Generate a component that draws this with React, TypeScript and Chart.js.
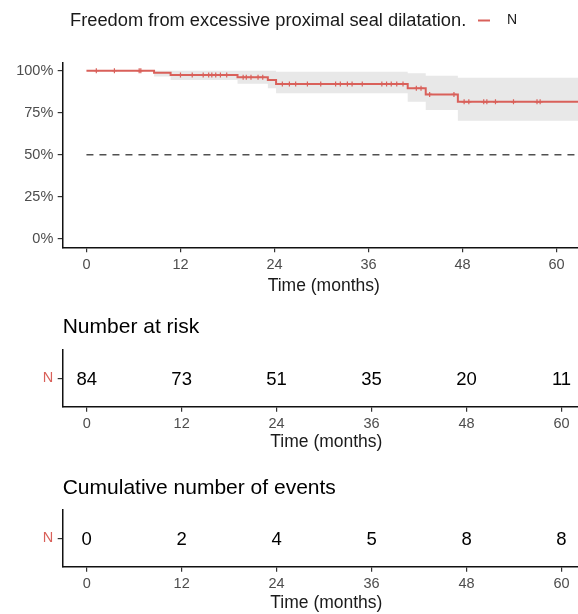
import React, { useEffect, useRef } from 'react';
import { Chart, registerables } from 'chart.js';

Chart.register(...registerables);

const FONT = "'Liberation Sans', Arial, Helvetica, sans-serif";
const RED = '#D9605A';

// ---- data ----
const legendTitle = 'Freedom from excessive proximal seal dilatation.';
const strataName = 'N';
const xAxisTitle = 'Time (months)';
const xTicks = [0, 12, 24, 36, 48, 60];
const yTicks = [0, 25, 50, 75, 100];

const stepTimes = [0, 8.63, 10.74, 19.28, 23.15, 24.2, 41.0, 43.3, 47.4, 63.6];
const survival = [100, 98.8, 97.5, 96.1, 94.5, 92.1, 89.5, 85.9, 81.5, 81.5];
const upperCI = [100, 100, 100, 100, 100, 99.4, 98.5, 97.0, 95.8, 95.8];
const lowerCI = [100, 96.5, 94.5, 92.2, 89.5, 86.6, 81.6, 76.6, 70.3, 70.3];
const censorTimes = [
  1.26, 3.57, 6.73, 6.94, 12.0, 13.5, 14.9, 15.6, 16.0, 16.5, 17.1, 17.9,
  20.0, 20.4, 21.0, 21.9, 22.5, 25.0, 25.9, 26.7, 28.2, 29.9, 31.8, 32.4,
  33.3, 33.9, 35.2, 37.7, 38.3, 38.9, 39.6, 40.4, 42.1, 42.7, 43.8, 46.9,
  48.2, 48.8, 50.7, 51.1, 52.2, 54.5, 57.5, 57.9,
];
const medianLevel = 50;

const riskTitle = 'Number at risk';
const eventsTitle = 'Cumulative number of events';
const tableTimes = [0, 12, 24, 36, 48, 60];
const riskCounts = [84, 73, 51, 35, 20, 11];
const eventCounts = [0, 2, 4, 5, 8, 8];

// ---- layout constants ----
const X_MIN = -3.03;
const X_MAX = 63.6;
const CANVAS_W = 590;
const Y_AXIS_W = 62.7;

function levelAt(t: number) {
  let v = survival[0];
  for (let i = 0; i < stepTimes.length; i++) if (stepTimes[i] <= t) v = survival[i];
  return v;
}

function xAxis(height: number, titlePadBottom: number) {
  return {
    type: 'linear',
    min: X_MIN,
    max: X_MAX,
    afterBuildTicks: (s: any) => {
      s.ticks = xTicks.map((v) => ({ value: v }));
    },
    afterFit: (s: any) => {
      s.height = height;
    },
    ticks: {
      font: { family: FONT, size: 14.5 },
      color: '#4D4D4D',
      padding: 4,
      maxRotation: 0,
      autoSkip: false,
    },
    grid: { drawOnChartArea: false, drawTicks: true, tickLength: 5, color: '#333333', lineWidth: 1.2 },
    border: { display: true, color: '#111111', width: 1.5 },
    title: {
      display: true,
      text: xAxisTitle,
      font: { family: FONT, size: 17.5 },
      color: '#1A1A1A',
      padding: { top: 0, bottom: titlePadBottom },
    },
  };
}

const legendPlugin = {
  id: 'kmLegend',
  afterDraw(chart: any) {
    const ctx = chart.ctx;
    ctx.save();
    ctx.textBaseline = 'middle';
    ctx.textAlign = 'left';
    ctx.fillStyle = '#1A1A1A';
    ctx.font = `18.3px ${FONT}`;
    ctx.fillText(legendTitle, 70, 20.5);
    ctx.strokeStyle = RED;
    ctx.lineWidth = 2;
    ctx.beginPath();
    ctx.moveTo(478, 20.5);
    ctx.lineTo(490, 20.5);
    ctx.stroke();
    ctx.font = `14px ${FONT}`;
    ctx.fillText(strataName, 507, 20.5);
    ctx.restore();
  },
};

const tableTextPlugin = {
  id: 'tableText',
  afterDatasetsDraw(chart: any, _args: any, opts: any) {
    const values: number[] = opts.values || [];
    const meta = chart.getDatasetMeta(0);
    const ctx = chart.ctx;
    const size = 18.5;
    ctx.save();
    ctx.font = `${size}px ${FONT}`;
    ctx.fillStyle = '#000000';
    ctx.textAlign = 'center';
    ctx.textBaseline = 'alphabetic';
    meta.data.forEach((pt: any, i: number) => {
      ctx.fillText(String(values[i]), pt.x, pt.y + 0.358 * size);
    });
    ctx.restore();
  },
};

function mainConfig(): any {
  return {
    type: 'line',
    data: {
      datasets: [
        {
          label: strataName,
          data: stepTimes.map((t, i) => ({ x: t, y: survival[i] })),
          stepped: true,
          borderColor: RED,
          borderWidth: 2,
          pointRadius: 0,
          fill: false,
        },
        {
          label: 'censor',
          data: censorTimes.map((t) => ({ x: t, y: levelAt(t) })),
          showLine: false,
          pointStyle: 'cross',
          pointRadius: 2.5,
          pointBorderColor: RED,
          pointBorderWidth: 1.2,
          borderColor: RED,
        },
        {
          label: 'median',
          data: [
            { x: 0, y: medianLevel },
            { x: X_MAX, y: medianLevel },
          ],
          borderColor: '#505050',
          borderWidth: 1.5,
          borderDash: [7, 6],
          pointRadius: 0,
          fill: false,
        },
        {
          label: 'upper',
          data: stepTimes.map((t, i) => ({ x: t, y: upperCI[i] })),
          stepped: true,
          borderColor: 'rgba(0,0,0,0)',
          borderWidth: 0,
          pointRadius: 0,
          backgroundColor: '#E8E8E8',
          fill: '+1',
        },
        {
          label: 'lower',
          data: stepTimes.map((t, i) => ({ x: t, y: lowerCI[i] })),
          stepped: true,
          borderColor: 'rgba(0,0,0,0)',
          borderWidth: 0,
          pointRadius: 0,
          fill: false,
        },
      ],
    },
    options: {
      animation: false,
      responsive: false,
      devicePixelRatio: 1,
      layout: { padding: { top: 62.3, left: 0, right: 0, bottom: 0 } },
      plugins: { legend: { display: false }, tooltip: { enabled: false }, title: { display: false } },
      scales: {
        x: xAxis(52.7, 3.8),
        y: {
          type: 'linear',
          min: -5,
          max: 105,
          afterBuildTicks: (s: any) => {
            s.ticks = yTicks.map((v) => ({ value: v }));
          },
          afterFit: (s: any) => {
            s.width = Y_AXIS_W;
          },
          ticks: {
            callback: (v: any) => `${v}%`,
            font: { family: FONT, size: 14.5 },
            color: '#4D4D4D',
            padding: 4.4,
          },
          grid: { drawOnChartArea: false, drawTicks: true, tickLength: 5, color: '#333333', lineWidth: 1.2 },
          border: { display: true, color: '#111111', width: 1.5 },
        },
      },
    },
    plugins: [legendPlugin],
  };
}

function tableConfig(title: string, values: number[], padTop: number, padBottom: number, axisH: number, titlePadBottom: number): any {
  return {
    type: 'scatter',
    data: {
      datasets: [
        {
          label: strataName,
          data: tableTimes.map((t) => ({ x: t, y: strataName })),
          pointRadius: 0,
          showLine: false,
        },
      ],
    },
    options: {
      animation: false,
      responsive: false,
      devicePixelRatio: 1,
      layout: { padding: 0 },
      plugins: {
        legend: { display: false },
        tooltip: { enabled: false },
        title: {
          display: true,
          text: title,
          align: 'start',
          fullSize: false,
          color: '#000000',
          font: { family: FONT, size: 21, weight: 'normal', lineHeight: 1.2 },
          padding: { top: padTop, bottom: padBottom },
        },
        tableText: { values },
      },
      scales: {
        x: xAxis(axisH, titlePadBottom),
        y: {
          type: 'category',
          labels: [strataName],
          offset: true,
          afterFit: (s: any) => {
            s.width = Y_AXIS_W;
          },
          ticks: { color: RED, font: { family: FONT, size: 14.5 }, padding: 4.4 },
          grid: { drawOnChartArea: false, drawTicks: true, tickLength: 5, color: '#333333', lineWidth: 1.2, offset: false },
          border: { display: true, color: '#111111', width: 1.5 },
        },
      },
    },
    plugins: [tableTextPlugin],
  };
}

export default function App() {
  const mainRef = useRef<HTMLCanvasElement>(null);
  const riskRef = useRef<HTMLCanvasElement>(null);
  const eventsRef = useRef<HTMLCanvasElement>(null);

  useEffect(() => {
    const charts: Chart[] = [];
    if (mainRef.current) charts.push(new Chart(mainRef.current, mainConfig()));
    if (riskRef.current) charts.push(new Chart(riskRef.current, tableConfig(riskTitle, riskCounts, 14.4, 10.4, 49.3, 3.8)));
    if (eventsRef.current) charts.push(new Chart(eventsRef.current, tableConfig(eventsTitle, eventCounts, 19.5, 9.0, 47.3, 0)));
    return () => charts.forEach((c) => c.destroy());
  }, []);

  return (
    <div style={{ position: 'absolute', left: 0, top: 0, width: 578, height: 614, overflow: 'hidden', background: '#ffffff' }}>
      <canvas ref={mainRef} width={CANVAS_W} height={300} style={{ position: 'absolute', left: 0, top: 0 }} />
      <canvas ref={riskRef} width={CANVAS_W} height={156} style={{ position: 'absolute', left: 0, top: 300 }} />
      <canvas ref={eventsRef} width={CANVAS_W} height={158} style={{ position: 'absolute', left: 0, top: 456 }} />
    </div>
  );
}
